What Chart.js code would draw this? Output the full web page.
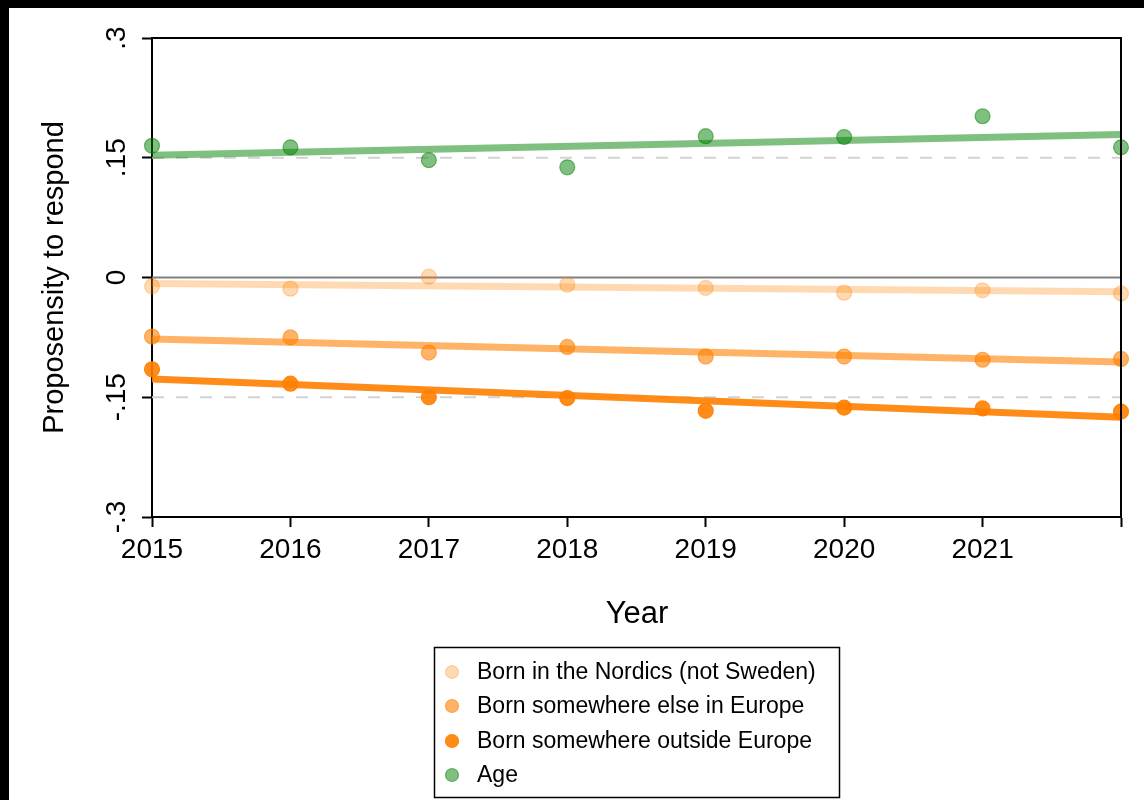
<!DOCTYPE html>
<html>
<head>
<meta charset="utf-8">
<title>Propensity to respond by year</title>
<script src="https://cdn.jsdelivr.net/npm/chart.js@4.4.1/dist/chart.umd.min.js"></script>
<style>
  html, body { margin: 0; padding: 0; background: #000; }
  #wrap { position: absolute; left: 9px; top: 8px; width: 1135px; height: 792px; background: #fff; }
</style>
</head>
<body>
<div id="wrap"><canvas id="chart" width="1135" height="792"></canvas></div>
<script>
// Survey years and axis ticks
const years = [2015, 2016, 2017, 2018, 2019, 2020, 2021, 2022];
const xTicks = [2015, 2016, 2017, 2018, 2019, 2020, 2021, 2022];
const xTickLabels = ['2015', '2016', '2017', '2018', '2019', '2020', '2021', ''];
const yTicks = [-0.3, -0.15, 0, 0.15, 0.3];
const yTickLabels = ['-.3', '-.15', '0', '.15', '.3'];

// Yearly coefficients
const nordics = [-0.011, -0.014, 0.001, -0.009, -0.013, -0.019, -0.016, -0.020];
const elseEurope = [-0.074, -0.075, -0.094, -0.087, -0.099, -0.099, -0.103, -0.102];
const outsideEurope = [-0.115, -0.133, -0.150, -0.151, -0.167, -0.163, -0.164, -0.168];
const age = [0.165, 0.163, 0.147, 0.138, 0.177, 0.176, 0.202, 0.163];

// Linear fit end points (first and last year)
const fitYears = [2015, 2022];
const nordicsFit = [-0.0075, -0.018];
const elseEuropeFit = [-0.077, -0.106];
const outsideEuropeFit = [-0.127, -0.175];
const ageFit = [0.153, 0.179];

// Reference lines
const zeroLine = [0, 0];
const dashedLevels = [0.15, -0.15];

const FONT = '"Liberation Sans", Arial, Helvetica, sans-serif';
Chart.defaults.font.family = FONT;
Chart.defaults.color = '#000';

const series = [
  { label: 'Born in the Nordics (not Sweden)', values: nordics, fit: nordicsFit, color: 'rgba(255,128,0,0.3)' },
  { label: 'Born somewhere else in Europe', values: elseEurope, fit: elseEuropeFit, color: 'rgba(255,128,0,0.6)' },
  { label: 'Born somewhere outside Europe', values: outsideEurope, fit: outsideEuropeFit, color: 'rgba(255,128,0,0.9)' },
  { label: 'Age', values: age, fit: ageFit, color: 'rgba(0,128,0,0.5)' }
];

const toPoints = (xs, ys) => xs.map((x, i) => ({ x: x, y: ys[i] }));

const datasets = [];
datasets.push({
  type: 'line', label: 'zero', data: toPoints(fitYears, zeroLine),
  borderColor: '#808080', borderWidth: 2, pointRadius: 0, order: 30
});
dashedLevels.forEach(v => {
  datasets.push({
    type: 'line', label: 'ref', data: toPoints(fitYears, [v, v]),
    borderColor: '#d2d2d2', borderWidth: 2, borderDash: [12, 12], pointRadius: 0, order: 30
  });
});
series.forEach(s => {
  datasets.push({
    type: 'line', label: s.label + ' fit', data: toPoints(fitYears, s.fit),
    borderColor: s.color, borderWidth: 7, pointRadius: 0, order: 10
  });
});
series.forEach(s => {
  datasets.push({
    type: 'scatter', label: s.label, data: toPoints(years, s.values),
    backgroundColor: s.color, borderColor: s.color, borderWidth: 1.2,
    pointRadius: 7.5, pointHoverRadius: 7.5, order: 1, clip: false
  });
});

// Rotated y tick labels, axis titles, top/right frame and boxed legend
const decorations = {
  id: 'decorations',
  afterDraw(chart) {
    const ctx = chart.ctx;
    const area = chart.chartArea;
    const y = chart.scales.y;
    ctx.save();

    // frame on top and right
    ctx.strokeStyle = '#000';
    ctx.lineWidth = 2;
    ctx.beginPath();
    ctx.moveTo(area.left, area.top);
    ctx.lineTo(area.right, area.top);
    ctx.lineTo(area.right, area.bottom);
    ctx.stroke();

    ctx.fillStyle = '#000';
    ctx.textAlign = 'center';
    ctx.textBaseline = 'alphabetic';

    // y tick labels, rotated
    ctx.font = '28px ' + FONT;
    yTicks.forEach((v, i) => {
      ctx.save();
      ctx.translate(116, y.getPixelForValue(v));
      ctx.rotate(-Math.PI / 2);
      ctx.fillText(yTickLabels[i], 0, 0);
      ctx.restore();
    });

    // y axis title
    ctx.font = '29px ' + FONT;
    ctx.save();
    ctx.translate(54, (area.top + area.bottom) / 2);
    ctx.rotate(-Math.PI / 2);
    ctx.fillText('Proposensity to respond', 0, 0);
    ctx.restore();

    // x axis title
    ctx.font = '31px ' + FONT;
    ctx.fillText('Year', (area.left + area.right) / 2 + 0.5, 615);

    // legend
    ctx.lineWidth = 1.5;
    ctx.strokeRect(425.5, 639.5, 405, 150);
    ctx.textAlign = 'left';
    ctx.font = '23px ' + FONT;
    const rows = [671, 705, 740, 774];
    series.forEach((s, i) => {
      ctx.beginPath();
      ctx.arc(443, rows[i] - 7, 6.5, 0, Math.PI * 2);
      ctx.fillStyle = s.color;
      ctx.fill();
      ctx.strokeStyle = s.color;
      ctx.lineWidth = 1.2;
      ctx.stroke();
      ctx.fillStyle = '#000';
      ctx.fillText(s.label, 468, rows[i]);
    });
    ctx.restore();
  }
};

new Chart(document.getElementById('chart'), {
  type: 'scatter',
  data: { datasets: datasets },
  options: {
    responsive: false,
    animation: false,
    layout: { padding: { top: 30, right: 23, left: 0, bottom: 0 } },
    plugins: { legend: { display: false }, tooltip: { enabled: false } },
    elements: { line: { borderCapStyle: 'butt', tension: 0 } },
    scales: {
      x: {
        type: 'linear', min: 2015, max: 2022,
        afterBuildTicks: s => { s.ticks = xTicks.map(v => ({ value: v })); },
        afterFit: s => { s.height = 283; },
        ticks: {
          callback: (v, i) => xTickLabels[i],
          font: { size: 28 }, color: '#000', padding: 6,
          maxRotation: 0, minRotation: 0, autoSkip: false
        },
        grid: { drawOnChartArea: false, drawTicks: true, tickLength: 10, tickColor: '#000', tickWidth: 2 },
        border: { display: true, color: '#000', width: 2 }
      },
      y: {
        type: 'linear', min: -0.3, max: 0.3,
        afterBuildTicks: s => { s.ticks = yTicks.map(v => ({ value: v })); },
        afterFit: s => { s.width = 143; },
        ticks: { display: false },
        grid: { drawOnChartArea: false, drawTicks: true, tickLength: 10, tickColor: '#000', tickWidth: 2 },
        border: { display: true, color: '#000', width: 2 }
      }
    }
  },
  plugins: [decorations]
});
</script>
</body>
</html>
